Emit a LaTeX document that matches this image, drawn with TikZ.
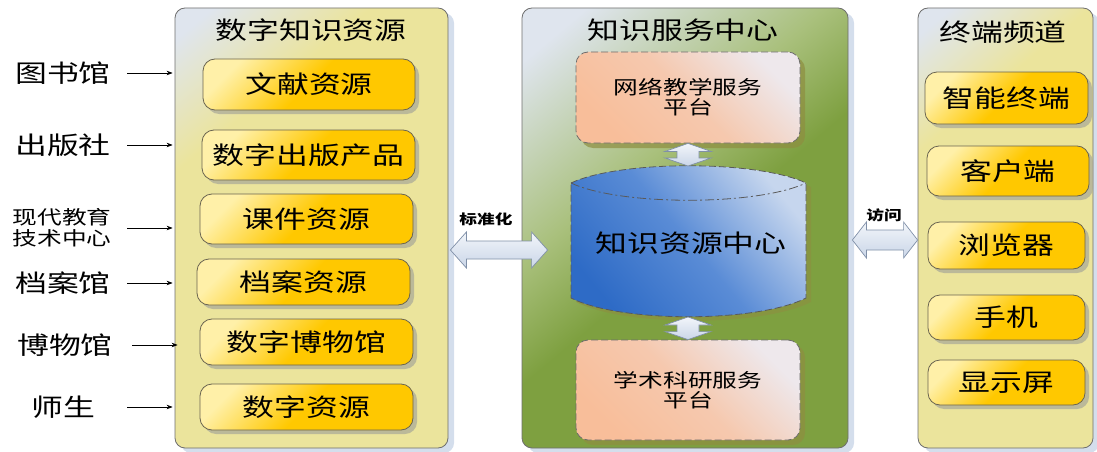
\documentclass[tikz,border=0pt]{standalone}
\usepackage{fontspec}
\newfontfamily\cjk{Noto Sans CJK SC}[FakeStretch=1.3]
\usetikzlibrary{arrows.meta,shadows,calc}
\definecolor{paneltl}{HTML}{DFE5EE}
\definecolor{panely}{HTML}{EBE49C}
\definecolor{pgreen}{HTML}{7EA040}
\definecolor{pgreenmid}{HTML}{A9C07C}
\definecolor{gold}{HTML}{FFC800}
\definecolor{goldl}{HTML}{FFF0A8}
\definecolor{orng}{HTML}{F8BE9A}
\definecolor{orngl}{HTML}{EEE8EC}
\definecolor{blued}{HTML}{2E6BC6}
\definecolor{bluem}{HTML}{5A8CD6}
\definecolor{bluel}{HTML}{C6D6EE}
\definecolor{pshadow}{HTML}{D4DEEC}
\definecolor{bshadow}{HTML}{A8A898}
\definecolor{oshadow}{HTML}{8E8E40}
\definecolor{pborder}{HTML}{6E6E6E}
\definecolor{bborder}{HTML}{6A6450}
\definecolor{aborder}{HTML}{8090A8}
\definecolor{afill}{HTML}{F2F5FA}
\definecolor{afill2}{HTML}{CAD6E8}
\pgfdeclareverticalshading{yshade}{100bp}{color(0bp)=(panely); color(68bp)=(panely); color(82bp)=(paneltl); color(100bp)=(paneltl)}
\pgfdeclareverticalshading{gshade}{100bp}{color(0bp)=(pgreen); color(48bp)=(pgreen); color(60bp)=(pgreenmid); color(80bp)=(paneltl); color(100bp)=(paneltl)}
\begin{document}
\begin{tikzpicture}[x=1pt,y=-1pt,
  bigfont/.style={font={\cjk\fontsize{24.5pt}{28pt}\selectfont}},
  midfont/.style={font={\cjk\fontsize{19pt}{20pt}\selectfont}},
  smallfont/.style={font={\cjk\fontsize{13.6pt}{15pt}\selectfont\bfseries}},
  panelbase/.style={draw=pborder, line width=0.8pt, rounded corners=10pt,
    drop shadow={shadow xshift=6pt, shadow yshift=-5pt, fill=pshadow, opacity=1},
    inner sep=0pt},
  ypanel/.style={panelbase, shading=yshade, shading angle=40},
  gpanel/.style={panelbase, shading=gshade, shading angle=40},
  ybox/.style={draw=bborder, line width=0.8pt, rounded corners=12pt,
    top color=goldl, bottom color=gold, middle color=gold, shading angle=45,
    drop shadow={shadow xshift=4pt, shadow yshift=-4pt, fill=bshadow, opacity=0.7},
    inner sep=0pt, bigfont},
  obox/.style={draw=gray!85!black, line width=0.8pt, dash pattern=on 7pt off 3pt, rounded corners=12pt,
    top color=orngl, bottom color=orng, middle color=orng!75!orngl, shading angle=-45,
    drop shadow={shadow xshift=5pt, shadow yshift=-5pt, fill=oshadow, opacity=0.7},
    inner sep=0pt, midfont, align=center},
  lbl/.style={inner sep=0pt, bigfont},
  thinarr/.style={line width=0.6pt, -{Stealth[length=6pt,width=4.5pt]}},
  blockarr/.style={draw=aborder, line width=0.7pt, top color=afill, bottom color=afill2},
  hdbl/.style n args={3}{to path={let \p1=(\tikztostart), \p2=(\tikztotarget) in
    (\x1,\y1) -- (\x1+#1,\y1+#3) -- (\x1+#1,\y1+#2) -- (\x2-#1,\y1+#2) -- (\x2-#1,\y1+#3) -- (\x2,\y1)
    -- (\x2-#1,\y1-#3) -- (\x2-#1,\y1-#2) -- (\x1+#1,\y1-#2) -- (\x1+#1,\y1-#3) -- cycle}},
  vdbl/.style n args={3}{to path={let \p1=(\tikztostart), \p2=(\tikztotarget) in
    (\x1,\y1) -- (\x1+#3,\y1-#1) -- (\x1+#2,\y1-#1) -- (\x1+#2,\y2+#1) -- (\x1+#3,\y2+#1) -- (\x1,\y2)
    -- (\x1-#3,\y2+#1) -- (\x1-#2,\y2+#1) -- (\x1-#2,\y1-#1) -- (\x1-#3,\y1-#1) -- cycle}}
]
\useasboundingbox (0,0) rectangle (1097,452);

% panels
\node[ypanel, minimum width=273pt, minimum height=440pt] (lp) at (311.5,228) {};
\node[gpanel, minimum width=326pt, minimum height=440pt] (mp) at (685,228) {};
\node[ypanel, minimum width=175pt, minimum height=440pt] (rp) at (1005.5,228) {};

% titles
\node[lbl] (lt) at (311,30) {数字知识资源};
\node[lbl] (mt) at (683,30) {知识服务中心};
\node[lbl] (rt) at (1003,32) {终端频道};

% left boxes
\node[ybox, minimum width=212pt, minimum height=51pt] (lb1) at (309,84.5) {文献资源};
\node[ybox, minimum width=213pt, minimum height=50pt] (lb2) at (308.5,155) {数字出版产品};
\node[ybox, minimum width=213pt, minimum height=50pt] (lb3) at (306.5,219) {课件资源};
\node[ybox, minimum width=213pt, minimum height=46pt] (lb4) at (303.5,282) {档案资源};
\node[ybox, minimum width=213pt, minimum height=46pt] (lb5) at (306.5,342) {数字博物馆};
\node[ybox, minimum width=213pt, minimum height=46pt] (lb6) at (306.5,407) {数字资源};

% right boxes
\node[ybox, minimum width=163pt, minimum height=52pt] (rb1) at (1006.5,98) {智能终端};
\node[ybox, minimum width=162pt, minimum height=50pt] (rb2) at (1008,171) {客户端};
\node[ybox, minimum width=157pt, minimum height=47pt] (rb3) at (1006.5,245.5) {浏览器};
\node[ybox, minimum width=157pt, minimum height=45pt] (rb4) at (1006.5,317.5) {手机};
\node[ybox, minimum width=157pt, minimum height=45pt] (rb5) at (1006.5,382.5) {显示屏};

% orange boxes
\node[obox, minimum width=224pt, minimum height=91pt] (ob1) at (688,97.5) {网络教学服务\\平台};
\node[obox, minimum width=224pt, minimum height=100pt] (ob2) at (688,390) {学术科研服务\\平台};

% cylinder
\path[draw=gray!70!black, line width=0.8pt, dash pattern=on 7pt off 3pt,
  top color=bluel, bottom color=blued, middle color=bluem, shading angle=-50,
  drop shadow={shadow xshift=5pt, shadow yshift=-4pt, fill=oshadow, opacity=0.6}]
  (571,183) .. controls (620,160) and (757,160) .. (806,183)
  -- (806,298) .. controls (757,323) and (620,323) .. (571,298) -- cycle;
\draw[gray!70!black, line width=0.8pt, dash pattern=on 9pt off 3pt on 2pt off 3pt]
  (571,183) .. controls (620,206) and (757,206) .. (806,183);
\coordinate (cyltop) at (688,166);
\coordinate (cylbot) at (688,317);
\node[lbl] (krc) at (691,243) {知识资源中心};

% vertical block arrows
\draw[blockarr] (ob1.south) to[vdbl={8pt}{11pt}{23pt}] (cyltop);
\draw[blockarr] (cylbot) to[vdbl={8pt}{11pt}{23pt}] (ob2.north);

% horizontal block arrows
\coordinate (ya) at (0,250);
\coordinate (yb) at (0,240);
\draw[blockarr] ([xshift=2pt]lp.east |- ya) to[hdbl={16pt}{9pt}{18pt}] ([xshift=26pt]mp.west |- ya);
\draw[blockarr] ([xshift=4pt]mp.east |- yb) to[hdbl={14pt}{10pt}{18pt}] (rp.west |- yb);
\node[smallfont, inner sep=0pt] (std) at (486,219) {标准化};
\node[smallfont, inner sep=0pt] (acc) at (884,215) {访问};

% left labels
\node[lbl] (l1) at (63,73) {图书馆};
\node[lbl] (l2) at (63,145) {出版社};
\node[inner sep=0pt, align=center, font={\cjk\fontsize{19pt}{21pt}\selectfont}] (l3) at (62,228) {现代教育\\技术中心};
\node[lbl] (l4) at (63,283) {档案馆};
\node[lbl] (l5) at (65,345) {博物馆};
\node[lbl] (l6) at (63,407) {师生};

\coordinate (ax) at (127,0);
\coordinate (bx) at (132,0);
\draw[thinarr] (l1.center -| ax) -- ([xshift=-2pt]l1.center -| lp.west);
\draw[thinarr] (l2.center -| ax) -- ([xshift=-2pt]l2.center -| lp.west);
\draw[thinarr] (l3.center -| ax) -- ([xshift=-2pt]l3.center -| lp.west);
\draw[thinarr] (l4.center -| ax) -- ([xshift=-2pt]l4.center -| lp.west);
\draw[thinarr] (l5.center -| bx) -- ([xshift=3pt]l5.center -| lp.west);
\draw[thinarr] (l6.center -| ax) -- ([xshift=-2pt]l6.center -| lp.west);
\end{tikzpicture}
\end{document}
